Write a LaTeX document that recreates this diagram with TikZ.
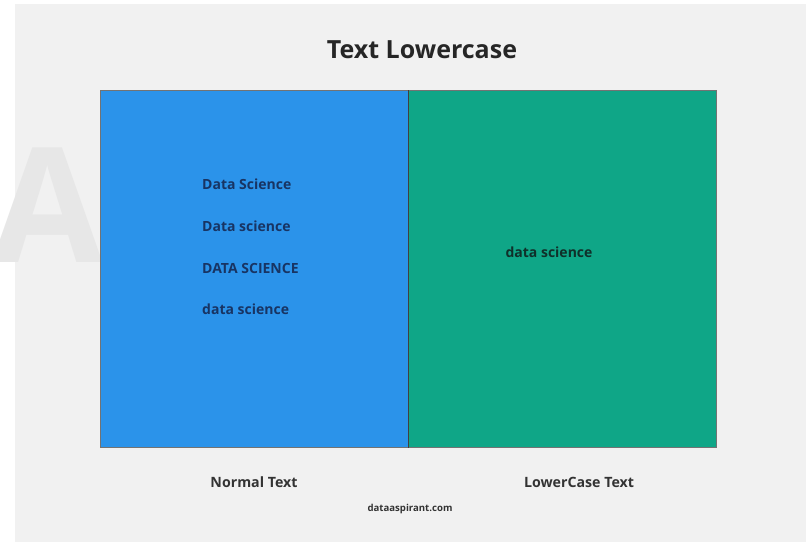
\documentclass[tikz,border=0pt]{standalone}
\usepackage{fontspec}
\setmainfont{Open Sans}
\definecolor{pageBg}{HTML}{F1F1F1}
\definecolor{leftFill}{HTML}{2B93EA}
\definecolor{rightFill}{HTML}{0FA687}
\definecolor{leftInk}{HTML}{183463}
\definecolor{rightInk}{HTML}{10302A}
\definecolor{captionInk}{HTML}{333333}
\definecolor{markInk}{HTML}{E7E7E7}
\begin{document}
\begin{tikzpicture}[x=1pt,y=-1pt,
  panel/.style={draw=black!55,line width=0.6pt},
  sample/.style={font=\bfseries\fontsize{14}{16}\selectfont,text=leftInk,anchor=west,inner sep=0pt},
  caption/.style={font=\bfseries\fontsize{14.2}{17}\selectfont,text=captionInk,inner sep=0pt}]
\useasboundingbox (0,0) rectangle (808,542);
\fill[white] (0,0) rectangle (808,542);
\fill[pageBg] (15,4) rectangle (806,542);
% faint watermark letter
\node[text=markInk,font=\bfseries\fontsize{160}{160}\selectfont,inner sep=0pt] (mark) at (48,205) {A};
% title
\node[font=\bfseries\fontsize{25}{30}\selectfont,text=black!85,inner sep=0pt] (title) at (422,50) {Text Lowercase};
% two panels
\node[panel,fill=leftFill,minimum width=308,minimum height=357,inner sep=0pt,anchor=north west] (left) at (100,90) {};
\node[panel,fill=rightFill,minimum width=308,minimum height=357,inner sep=0pt,anchor=north west] (right) at (408,90) {};
\draw[black!75,line width=1pt] (left.north east) -- (left.south east);
% sample strings
\node[sample] (s1) at (202,184) {Data Science};
\node[sample] (s2) at (202,226) {Data science};
\node[sample] (s3) at (202,268) {DATA SCIENCE};
\node[sample] (s4) at (202,309) {data science};
\node[sample,text=rightInk,anchor=center] (r1) at (549,252) {data science};
% captions
\node[caption] (c1) at (254,482) {Normal Text};
\node[caption] (c2) at (579,482) {LowerCase Text};
\node[font=\bfseries\fontsize{9.6}{11}\selectfont,text=captionInk,inner sep=0pt] (site) at (410,509) {dataaspirant.com};
\end{tikzpicture}
\end{document}
